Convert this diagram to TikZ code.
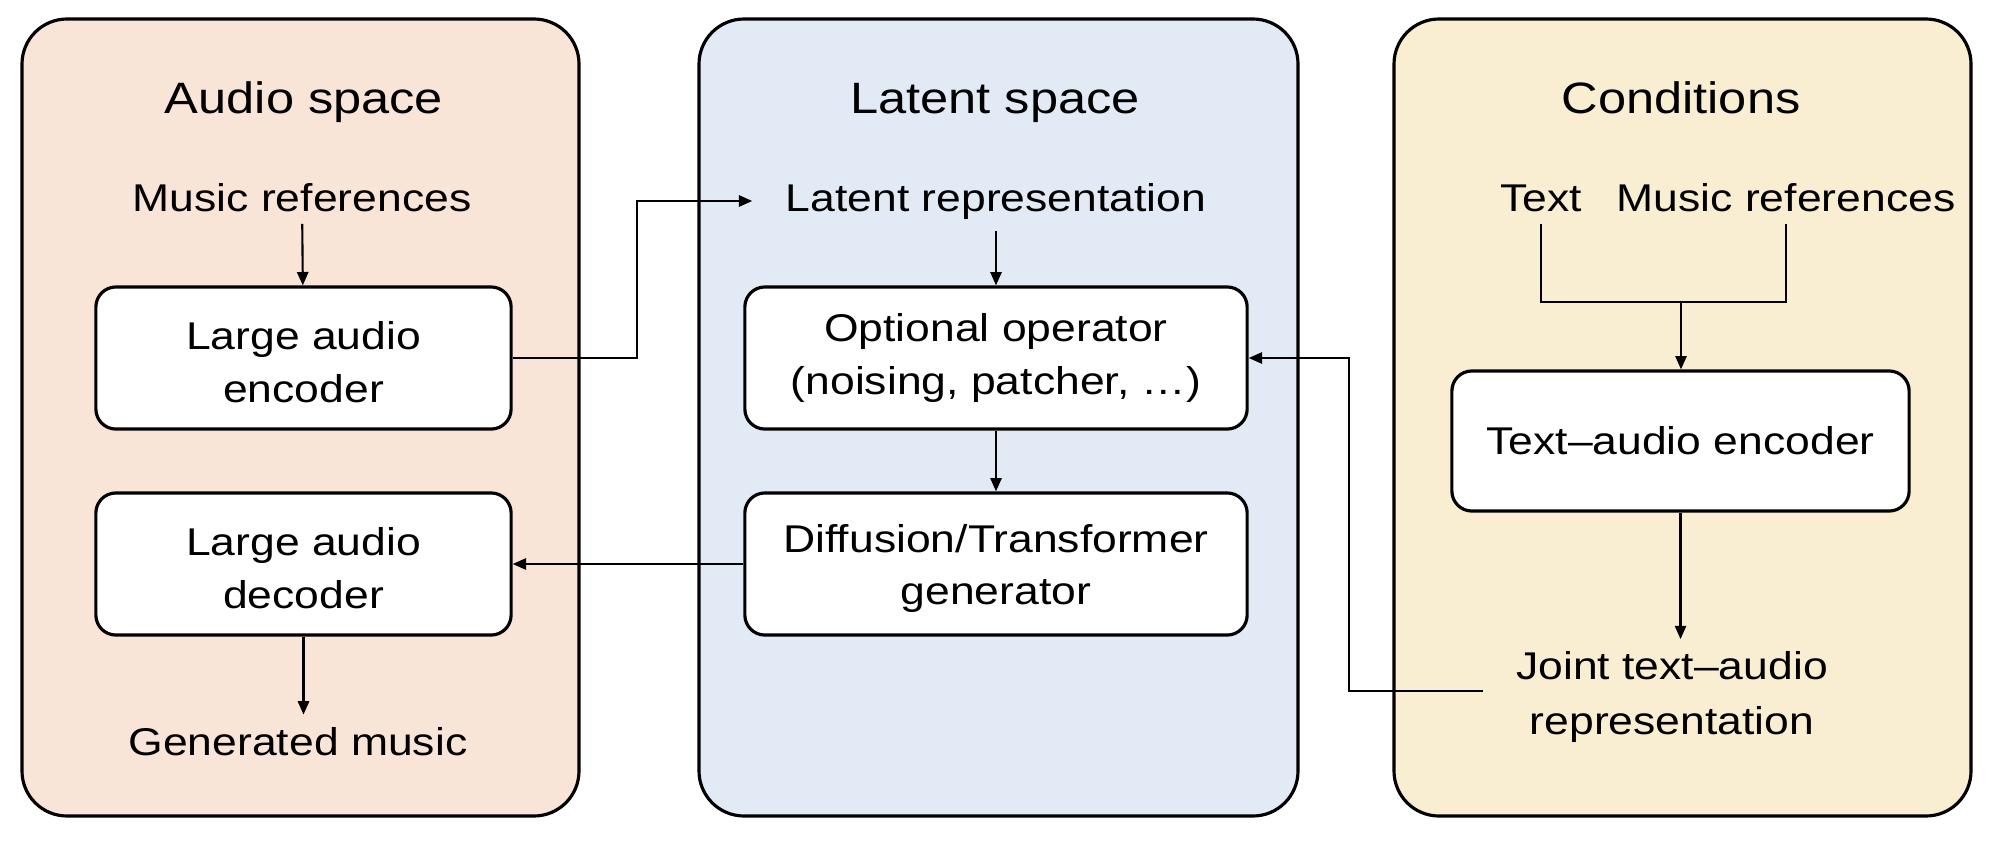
\documentclass[tikz,border=0pt]{standalone}
\usepackage{fontspec}
\setmainfont{Liberation Sans}[FakeStretch=1.15]
\usetikzlibrary{positioning,arrows.meta}
\definecolor{audiobg}{RGB}{249,228,216}
\definecolor{latentbg}{RGB}{226,234,245}
\definecolor{condbg}{RGB}{250,238,210}
\tikzset{
  panel/.style={draw=black, line width=0.9pt, rounded corners=0.45cm},
  block/.style={draw=black, fill=white, line width=0.9pt, rounded corners=0.2cm,
    align=center, inner sep=0pt, font=\fontsize{11}{15}\selectfont},
  txt/.style={align=center, font=\fontsize{11}{15.6}\selectfont},
  heading/.style={anchor=base, font=\fontsize{12.5}{15}\selectfont},
  wire/.style={line width=0.6pt},
  link/.style={line width=0.6pt, -{Triangle[length=3.8pt,width=3.2pt]}}
}
\begin{document}
\begin{tikzpicture}[x=0.01cm,y=-0.01cm]
  \useasboundingbox (0,0) rectangle (2000,842);
  \draw[panel,fill=audiobg] (22,19) rectangle (579,816);
  \draw[panel,fill=latentbg] (699,19) rectangle (1298,816);
  \draw[panel,fill=condbg] (1394,19) rectangle (1971,816);

  \node[heading] (audiot) at (304,113) {Audio space};
  \node[heading] (latentt) at (995,113) {Latent space};
  \node[heading] (condt) at (1681,113) {Conditions};

  \node[txt,anchor=base] (amref) at (302,211) {Music references};
  \node[block,minimum width=4.15cm,minimum height=1.42cm] (enc) at (303.5,358) {\strut Large audio\\encoder};
  \node[block,minimum width=4.15cm,minimum height=1.42cm] (dec) at (303.5,564) {\strut Large audio\\decoder};
  \node[txt,anchor=base] (gen) at (298,755) {Generated music};

  \node[txt,anchor=base] (lrep) at (996,211) {Latent representation};
  \node[block,minimum width=5.02cm,minimum height=1.42cm] (opt) at (996,358) {Optional operator\\(noising, patcher, …)};
  \node[block,minimum width=5.02cm,minimum height=1.42cm] (diff) at (996,564) {\strut Diffusion/Transformer\\generator};

  \node[txt,anchor=base] (ctext) at (1541,211) {Text};
  \node[txt,anchor=base] (cref) at (1786,211) {Music references};
  \coordinate (merge) at (1681,302);
  \node[block,minimum width=4.57cm,minimum height=1.40cm] (tae) at (1680.5,441) {Text–audio encoder};
  \node[txt] (joint) at (1672,697) {Joint text–audio\\representation};

  \draw[link] (amref) -- (enc);
  \draw[link] (enc.east) -- ++(124,0) |- ([xshift=-6pt]lrep.west);
  \draw[link] (lrep) -- (lrep |- opt.north);
  \draw[link] (opt) -- (diff);
  \draw[link] (diff.west) -- (dec.east);
  \draw[link] (dec.south) -- (dec.south |- gen.north);
  \draw[wire] (ctext.south) |- (merge) -| (cref.south);
  \draw[link] (merge) -- (merge |- tae.north);
  \draw[link] (tae.south) -- (tae.south |- joint.north);
  \draw[link] ([xshift=-6pt,yshift=1.7pt]joint.west) -- ++(-134,0) |- (opt.east);
\end{tikzpicture}
\end{document}
